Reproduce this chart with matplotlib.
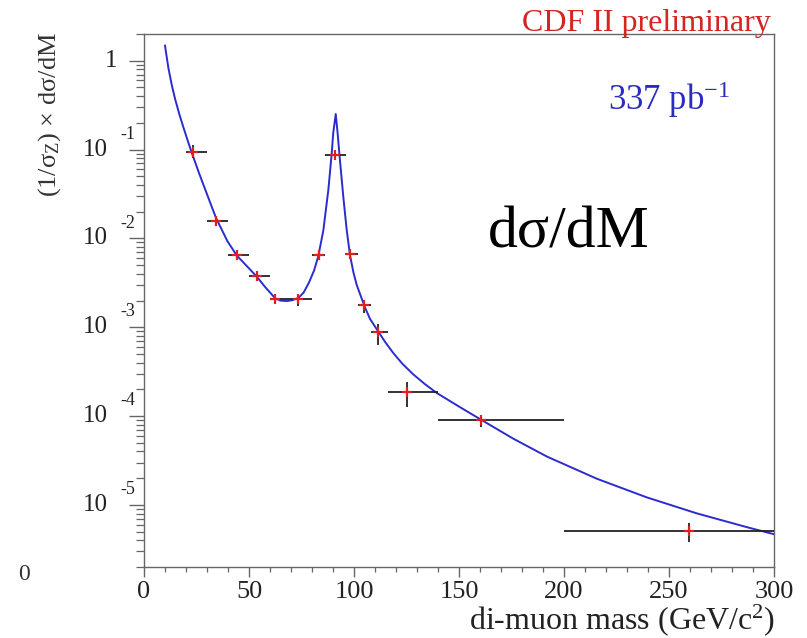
import matplotlib
matplotlib.use("Agg")
import matplotlib.pyplot as plt
from matplotlib.ticker import MultipleLocator, LogLocator, NullFormatter, FixedLocator
from matplotlib.transforms import offset_copy

plt.rcParams["font.family"] = ["Liberation Serif", "DejaVu Serif"]
plt.rcParams["mathtext.fontset"] = "custom"
plt.rcParams["mathtext.rm"] = "Liberation Serif"
plt.rcParams["mathtext.it"] = "Liberation Serif:italic"
plt.rcParams["mathtext.bf"] = "Liberation Serif:bold"

# Measured points: mass (GeV/c^2), bin edges, normalised cross section and error band
mass = [23.2, 34.3, 44.1, 53.7, 62.5, 73.3, 83.2, 91.1, 98.1, 104.9, 111.4, 125.1, 160.5, 259.5]
bin_lo = [20, 30, 40, 50, 60, 70, 80, 86, 96, 102, 108, 116, 140, 200]
bin_hi = [30, 40, 50, 60, 70, 80, 86, 96, 102, 108, 116, 140, 200, 300]
xsec = [0.0935, 0.0157, 0.00645, 0.0038, 0.00207, 0.00207, 0.00645, 0.0871, 0.0066,
        0.00176, 0.00089, 1.87e-4, 8.97e-5, 5.07e-6]
xsec_lo = [0.080, 0.0138, 0.00597, 0.0034, 0.00182, 0.00173, 0.00597, 0.080, 0.00622,
           0.00143, 0.00063, 1.27e-4, 7.6e-5, 3.8e-6]
xsec_hi = [0.1127, 0.0176, 0.00679, 0.00422, 0.0022, 0.0023, 0.00679, 0.095, 0.00697,
           0.00193, 0.0011, 2.42e-4, 1.02e-4, 6.3e-6]

# Theory curve (Drell-Yan + Z lineshape), mass and log10 of the normalised cross section
curve_m = [10, 11.6, 13.2, 14.8, 16.8, 18.7, 21.1, 23.2, 25.9, 28.2, 32.2, 34.3, 39.7,
           44.1, 48.9, 53.7, 57.6, 62.5, 65.0, 67.9, 70.7, 73.5, 76.0, 78.5, 81.0,
           83.0, 85.4, 87.8, 89.4, 90.1, 91.3, 92.2, 93.0, 94.9, 96.5, 98.1, 99.7,
           101.3, 105.2, 107.6, 111.6, 114.8, 118.7, 123.0, 128.2, 133.5, 139.4,
           150.5, 160.8, 175.9, 191.8, 215.6, 239.4, 263.2, 287.0, 300.0]
curve_log10 = [0.17, -0.08, -0.27, -0.43, -0.60, -0.745, -0.92, -1.065, -1.245, -1.39,
               -1.64, -1.77, -2.03, -2.19, -2.31, -2.43, -2.545, -2.675, -2.70, -2.705,
               -2.695, -2.67, -2.61, -2.50, -2.36, -2.20, -1.91, -1.45, -1.04, -0.815,
               -0.60, -0.815, -1.04, -1.53, -1.90, -2.19, -2.38, -2.525, -2.775, -2.905,
               -3.05, -3.165, -3.29, -3.41, -3.53, -3.635, -3.74, -3.90, -4.045, -4.255,
               -4.455, -4.705, -4.915, -5.095, -5.25, -5.33]
curve_y = [10.0 ** v for v in curve_log10]

decades = [-5, -4, -3, -2, -1]

W, H = 807, 638
fig = plt.figure(figsize=(W / 100, H / 100), dpi=100)
ax = fig.add_axes([144 / W, 1 - 567 / H, 630 / W, 533 / H])

ax.plot(curve_m, curve_y, color="#2b2bd0", lw=1.4, zorder=2)

xerr = [[m - lo for m, lo in zip(mass, bin_lo)], [hi - m for m, hi in zip(mass, bin_hi)]]
yerr = [[y - lo for y, lo in zip(xsec, xsec_lo)], [hi - y for y, hi in zip(xsec, xsec_hi)]]
ax.errorbar(mass, xsec, xerr=xerr, yerr=yerr, fmt="none", ecolor="#222222",
            elinewidth=1.3, capsize=0, zorder=3)
ax.plot(mass, xsec, linestyle="none", marker="+", markersize=7, mew=1.6,
        color="#e02020", zorder=4)

ax.set_yscale("log")
ax.set_xlim(0, 300)
ax.set_ylim(2.0e-6, 2.0)

for sp in ax.spines.values():
    sp.set_color("#666666")
    sp.set_linewidth(1.0)

ax.xaxis.set_major_locator(MultipleLocator(50))
ax.xaxis.set_minor_locator(MultipleLocator(10))
ax.tick_params(axis="x", which="major", direction="out", length=7, width=1.0,
               color="#666666", labelsize=19, pad=3, top=False, labelcolor="#222222")
ax.tick_params(axis="x", which="minor", direction="out", length=3.5, width=0.9,
               color="#666666", top=False)

ax.yaxis.set_major_locator(FixedLocator([10.0 ** k for k in decades + [0]]))
ax.yaxis.set_minor_locator(LogLocator(base=10, subs=range(2, 10)))
ax.yaxis.set_major_formatter(NullFormatter())
ax.yaxis.set_minor_formatter(NullFormatter())
ax.tick_params(axis="y", which="major", direction="out", length=11, width=1.0,
               color="#666666", right=False)
ax.tick_params(axis="y", which="minor", direction="out", length=5.5, width=0.9,
               color="#666666", right=False)

# y tick labels drawn as "10" with a raised exponent
ytrans = ax.get_yaxis_transform()
exp_trans = offset_copy(ytrans, fig=fig, y=11, units="points")
for k in decades:
    ax.text(-0.057, 10.0 ** k, "10", transform=ytrans, ha="right", va="center",
            fontsize=18, color="#222222")
    ax.text(-0.038, 10.0 ** k, str(k), transform=exp_trans, ha="left", va="center",
            fontsize=13, color="#222222")
ax.text(-0.043, 1.0, "1", transform=ytrans, ha="right", va="center",
        fontsize=18, color="#222222")

fig.text(50 / W, 1 - 114 / H, r"(1/σ$_{\mathrm{Z}}$) × dσ/dM", rotation=90,
         ha="center", va="center", fontsize=19, color="#333333")
fig.text(775 / W, 1 - 620 / H, r"di-muon mass (GeV/c$^{\mathrm{2}}$)",
         ha="right", va="center", fontsize=23, color="#222222")

fig.text(771 / W, 1 - 31 / H, "CDF II preliminary", ha="right", va="baseline",
         fontsize=23, color="#d42424")
fig.text(608 / W, 1 - 110 / H, r"337 pb$^{\mathrm{-1}}$", ha="left", va="baseline",
         fontsize=25, color="#2b2bc0")
fig.text(488 / W, 1 - 248 / H, "dσ/dM", ha="left", va="baseline",
         fontsize=43, color="black")
fig.text(24 / W, 1 - 575 / H, "0", ha="center", va="center",
         fontsize=17, color="#333333")

fig.savefig("out.png", dpi=100)
